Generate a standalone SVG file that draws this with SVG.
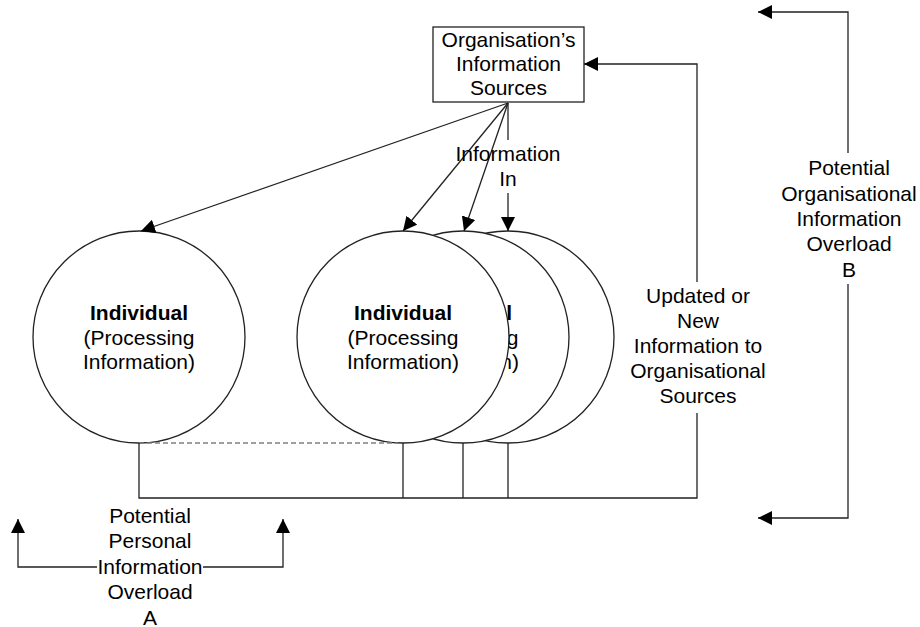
<svg xmlns="http://www.w3.org/2000/svg" width="920" height="627" viewBox="0 0 920 627">
<style>
text{font-family:"Liberation Sans",Arial,sans-serif;font-size:21px;fill:#000;text-anchor:middle}
.b{font-weight:bold}
.ln{fill:none;stroke:#222;stroke-width:1.3}
.arr{fill:none;stroke:#222;stroke-width:1.3;marker-end:url(#ah)}
.dash{fill:none;stroke:#808080;stroke-width:1.5;stroke-dasharray:5,3}
.c{fill:#fff;stroke:#222;stroke-width:1.3}
</style>
<defs>
<marker id="ah" markerUnits="userSpaceOnUse" markerWidth="14" markerHeight="14" refX="14" refY="7" orient="auto">
<path d="M0,0 L14,7 L0,14 Z" fill="#000"/>
</marker>
</defs>
<rect width="920" height="627" fill="#fff"/>
<g id="node-individual-back">
<circle class="c" cx="508" cy="337" r="106"/>
</g>
<g id="node-individual-middle">
<circle class="c" cx="463" cy="337" r="106"/>
<text x="463" y="320" class="b">Individual</text>
<text x="463" y="344.5">(Processing</text>
<text x="463" y="369">Information)</text>
</g>
<g id="node-individual-front">
<circle class="c" cx="403" cy="337" r="106"/>
<text x="403" y="320" class="b">Individual</text>
<text x="403" y="344.5">(Processing</text>
<text x="403" y="369">Information)</text>
</g>
<g id="node-individual-left">
<circle class="c" cx="139" cy="337" r="106"/>
<text x="139" y="320" class="b">Individual</text>
<text x="139" y="344.5">(Processing</text>
<text x="139" y="369">Information)</text>
</g>
<g id="node-sources">
<rect x="433" y="27" width="151" height="75" fill="#fff" stroke="#222" stroke-width="1.3"/>
<text x="508.5" y="47">Organisation’s</text>
<text x="508.5" y="71">Information</text>
<text x="508.5" y="95">Sources</text>
</g>
<g id="connectors">
<line class="arr" x1="508" y1="103" x2="141" y2="231"/>
<line class="arr" x1="508" y1="103" x2="403" y2="231"/>
<line class="arr" x1="508" y1="103" x2="464" y2="231"/>
<line class="ln" x1="508" y1="103" x2="508" y2="140"/>
<line class="arr" x1="508" y1="193" x2="508" y2="231"/>
<text x="508" y="161">Information</text>
<text x="508" y="186">In</text>
<line class="dash" x1="139" y1="443" x2="398" y2="443"/>
<polyline class="ln" points="139,443 139,498 697,498 697,413"/>
<line class="ln" x1="403" y1="443" x2="403" y2="498"/>
<line class="ln" x1="463" y1="443" x2="463" y2="498"/>
<line class="ln" x1="508" y1="443" x2="508" y2="498"/>
<polyline class="arr" points="697,282 697,64 584,64"/>
<text x="698" y="303">Updated or</text>
<text x="698" y="328">New</text>
<text x="698" y="353">Information to</text>
<text x="698" y="378">Organisational</text>
<text x="698" y="403">Sources</text>
<polyline class="arr" points="848,153 848,12 758,12"/>
<polyline class="arr" points="848,284 848,518 758,518"/>
<text x="849" y="175">Potential</text>
<text x="849" y="201">Organisational</text>
<text x="849" y="226">Information</text>
<text x="849" y="251">Overload</text>
<text x="849" y="277">B</text>
<polyline class="arr" points="97,567 18,567 18,519"/>
<polyline class="arr" points="203,567 283,567 283,519"/>
<text x="150" y="523">Potential</text>
<text x="150" y="548">Personal</text>
<text x="150" y="574">Information</text>
<text x="150" y="599">Overload</text>
<text x="150" y="625">A</text>
</g>
</svg>
